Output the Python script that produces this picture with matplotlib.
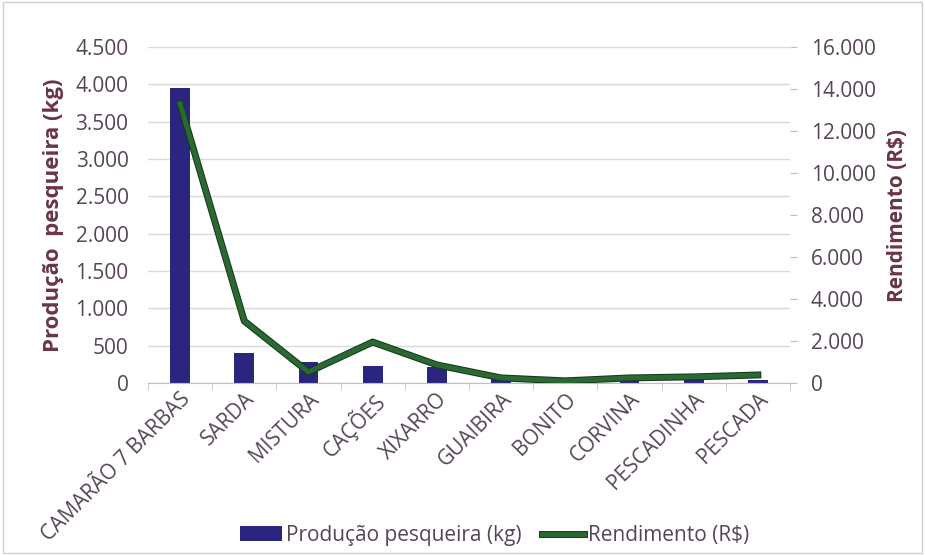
import numpy as np
import matplotlib.pyplot as plt
import matplotlib.patheffects as pe
import matplotlib.transforms as mtransforms
from matplotlib.ticker import FuncFormatter

categorias = ['CAMARÃO 7 BARBAS', 'SARDA', 'MISTURA', 'CAÇÕES', 'XIXARRO',
              'GUAIBIRA', 'BONITO', 'CORVINA', 'PESCADINHA', 'PESCADA']
producao_kg = [3950, 400, 280, 230, 215, 80, 65, 50, 50, 40]
rendimento = [13300, 2950, 520, 1950, 860, 240, 100, 240, 290, 380]

tick_color = '#554556'
label_color = '#6a3446'
plt.rcParams['font.family'] = ['Open Sans', 'DejaVu Sans']


def br_fmt(v, pos):
    return '{:,.0f}'.format(v).replace(',', '.')


fig = plt.figure(figsize=(9.25, 5.55), dpi=100)
ax = fig.add_axes([0.16, 0.31, 0.694, 0.605])
x = np.arange(len(categorias))

bars = ax.bar(x, producao_kg, width=0.31, color='#2a2680', zorder=2,
              label='Produção pesqueira (kg)')
ax.set_ylim(0, 4500)
ax.set_yticks(np.arange(0, 4501, 500))
ax.yaxis.set_major_formatter(FuncFormatter(br_fmt))
ax.set_xlim(-0.5, len(categorias) - 0.5)
ax.grid(axis='y', color='#d9d9d9', linewidth=1, zorder=0)
ax.set_xticks(x)
ax.set_xticklabels(categorias, rotation=45, ha='right', va='top',
                   rotation_mode='anchor', fontsize=15, color=tick_color)
shift = mtransforms.ScaledTranslation(10 / 100, -10 / 100, fig.dpi_scale_trans)
for lab in ax.get_xticklabels():
    lab.set_transform(lab.get_transform() + shift)
ax.set_xticks(np.arange(-0.5, len(categorias)), minor=True)
ax.tick_params(axis='x', which='major', length=0, pad=4)
ax.tick_params(axis='x', which='minor', length=5, color='#bfbfbf')
ax.tick_params(axis='y', length=0, labelsize=15, labelcolor=tick_color, pad=14)
for s in ['top', 'right', 'left']:
    ax.spines[s].set_visible(False)
ax.spines['bottom'].set_color('#bfbfbf')
ax.set_ylabel('Produção  pesqueira (kg)', fontsize=16, fontweight='bold',
              color=label_color, labelpad=8)

ax2 = ax.twinx()
line, = ax2.plot(x, rendimento, color='#2a6a32', linewidth=3.5, zorder=3,
                 label='Rendimento (R$)',
                 path_effects=[pe.Stroke(linewidth=5, foreground='#163a1c'), pe.Normal()])
ax2.set_ylim(0, 16000)
ax2.set_yticks(np.arange(0, 16001, 2000))
ax2.yaxis.set_major_formatter(FuncFormatter(br_fmt))
ax2.tick_params(axis='y', length=5, color='#bfbfbf', labelsize=15,
                labelcolor=tick_color, pad=10)
for s in ['top', 'right', 'left', 'bottom']:
    ax2.spines[s].set_visible(False)
ax2.set_ylabel('Rendimento (R$)', fontsize=15, fontweight='bold',
               color=label_color, labelpad=8)

leg = fig.legend(handles=[bars, line], loc='center', bbox_to_anchor=(0.535, 0.035),
                 ncol=2, frameon=False, fontsize=15, handlelength=2.0,
                 columnspacing=1.0, handletextpad=0.2)
for t in leg.get_texts():
    t.set_color(tick_color)

fig.patches.append(plt.Rectangle((0.003, 0.003), 0.994, 0.994, transform=fig.transFigure,
                                 fill=False, edgecolor='#d0d0d0', linewidth=1))
fig.savefig('out.png', dpi=100)
